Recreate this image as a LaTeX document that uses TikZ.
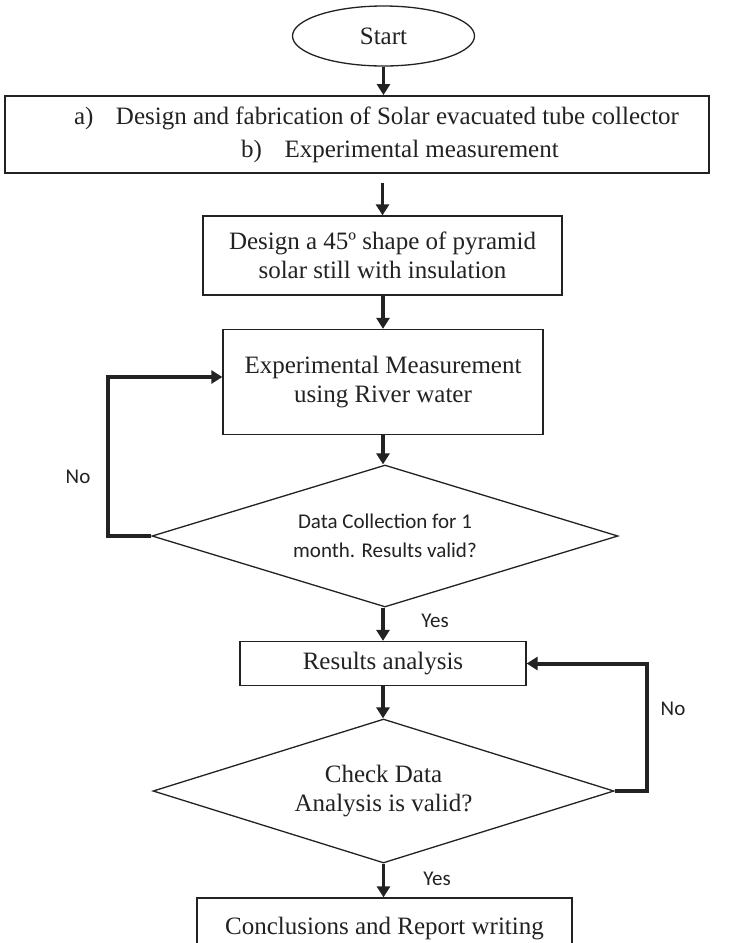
\documentclass[tikz,border=0pt]{standalone}
\usepackage{fontspec}
\setmainfont{Liberation Serif}
\newfontfamily\calibri{Carlito}
\usetikzlibrary{shapes.geometric,arrows.meta}
\definecolor{ink}{HTML}{222222}
\tikzset{
  boxbase/.style={draw=ink, line width=1.3pt, inner sep=0pt, align=center, text=ink,
    font=\fontsize{25}{29}\selectfont},
  stepbox/.style={boxbase, rectangle},
  topbox/.style={boxbase, rectangle, line width=1.9pt},
  startnode/.style={boxbase, ellipse},
  decide/.style={boxbase, diamond, shape aspect=3.25},
  sanslbl/.style={text=ink, inner sep=0pt, font=\calibri\fontsize{21}{25.5}\selectfont},
  arr/.style={draw=ink, line width=3.5pt, -{Triangle[length=11pt,width=13pt]}},
  fb/.style={draw=ink, line width=4pt, line join=miter, -{Triangle[length=11pt,width=13pt]}}
}
\begin{document}
\begin{tikzpicture}[x=1pt,y=-1pt]
\useasboundingbox (0,0) rectangle (751,943);
\clip (0,0) rectangle (751,943);
\fill[white] (0,0) rectangle (751,943);

\node[startnode, minimum width=182pt, minimum height=60pt] (start) at (383.5,36) {Start};
\node[topbox, minimum width=704pt, minimum height=77pt] (b1) at (357,134.5)
  {\hspace*{39pt}a)\hspace{0.9em}Design and fabrication of Solar evacuated tube collector\\[4pt]
   \hspace*{86pt}b)\hspace{0.9em}Experimental measurement};
\node[stepbox, minimum width=359pt, minimum height=79pt] (b2) at (382.5,255.5)
  {Design a 45º shape of pyramid\\solar still with insulation};
\node[stepbox, minimum width=320pt, minimum height=105pt] (b3) at (383,382)
  {Experimental Measurement\\using River water};
\node[decide, minimum width=466pt, minimum height=142pt] (d1) at (385,536)
  {\calibri\fontsize{21}{25.5}\selectfont Data Collection for 1\\\calibri\fontsize{21}{25.5}\selectfont month. Results valid?};
\node[stepbox, minimum width=286pt, minimum height=44pt] (b4) at (383,663.5)
  {Results analysis};
\node[decide, minimum width=461pt, minimum height=144pt] (d2) at (383.5,791)
  {Check Data\\Analysis is valid?};
\node[stepbox, minimum width=375pt, minimum height=74pt, text depth=0pt] (b5) at (384.5,935)
  {\raisebox{18pt}{Conclusions and Report writing}};

\node[sanslbl] (no1) at (78,477) {No};
\node[sanslbl] (no2) at (673,709) {No};
\node[sanslbl] (yes1) at (435,621) {Yes};
\node[sanslbl] (yes2) at (437,879) {Yes};

\draw[arr] (start.south) -- (start.south |- b1.north);
\draw[arr] (b1.south -| b2.north) ++(0,9) -- (b2.north);
\draw[arr] (b2.south -| b3.north) -- (b3.north);
\draw[arr] (b3.south) -- (b3.south |- d1.north);
\draw[arr] (d1.south -| b4.north) -- (b4.north);
\draw[arr] (b4.south) -- (b4.south |- d2.north);
\draw[arr] (d2.south) -- (d2.south |- b5.north);

\coordinate (l1) at (108,536);
\coordinate (b3in) at ([yshift=5pt]b3.west);
\draw[fb] (d1.west) -- (l1) |- (b3in);
\coordinate (r1) at (647,791);
\draw[fb] (d2.east) -- (r1) |- (b4.east);
\end{tikzpicture}
\end{document}
